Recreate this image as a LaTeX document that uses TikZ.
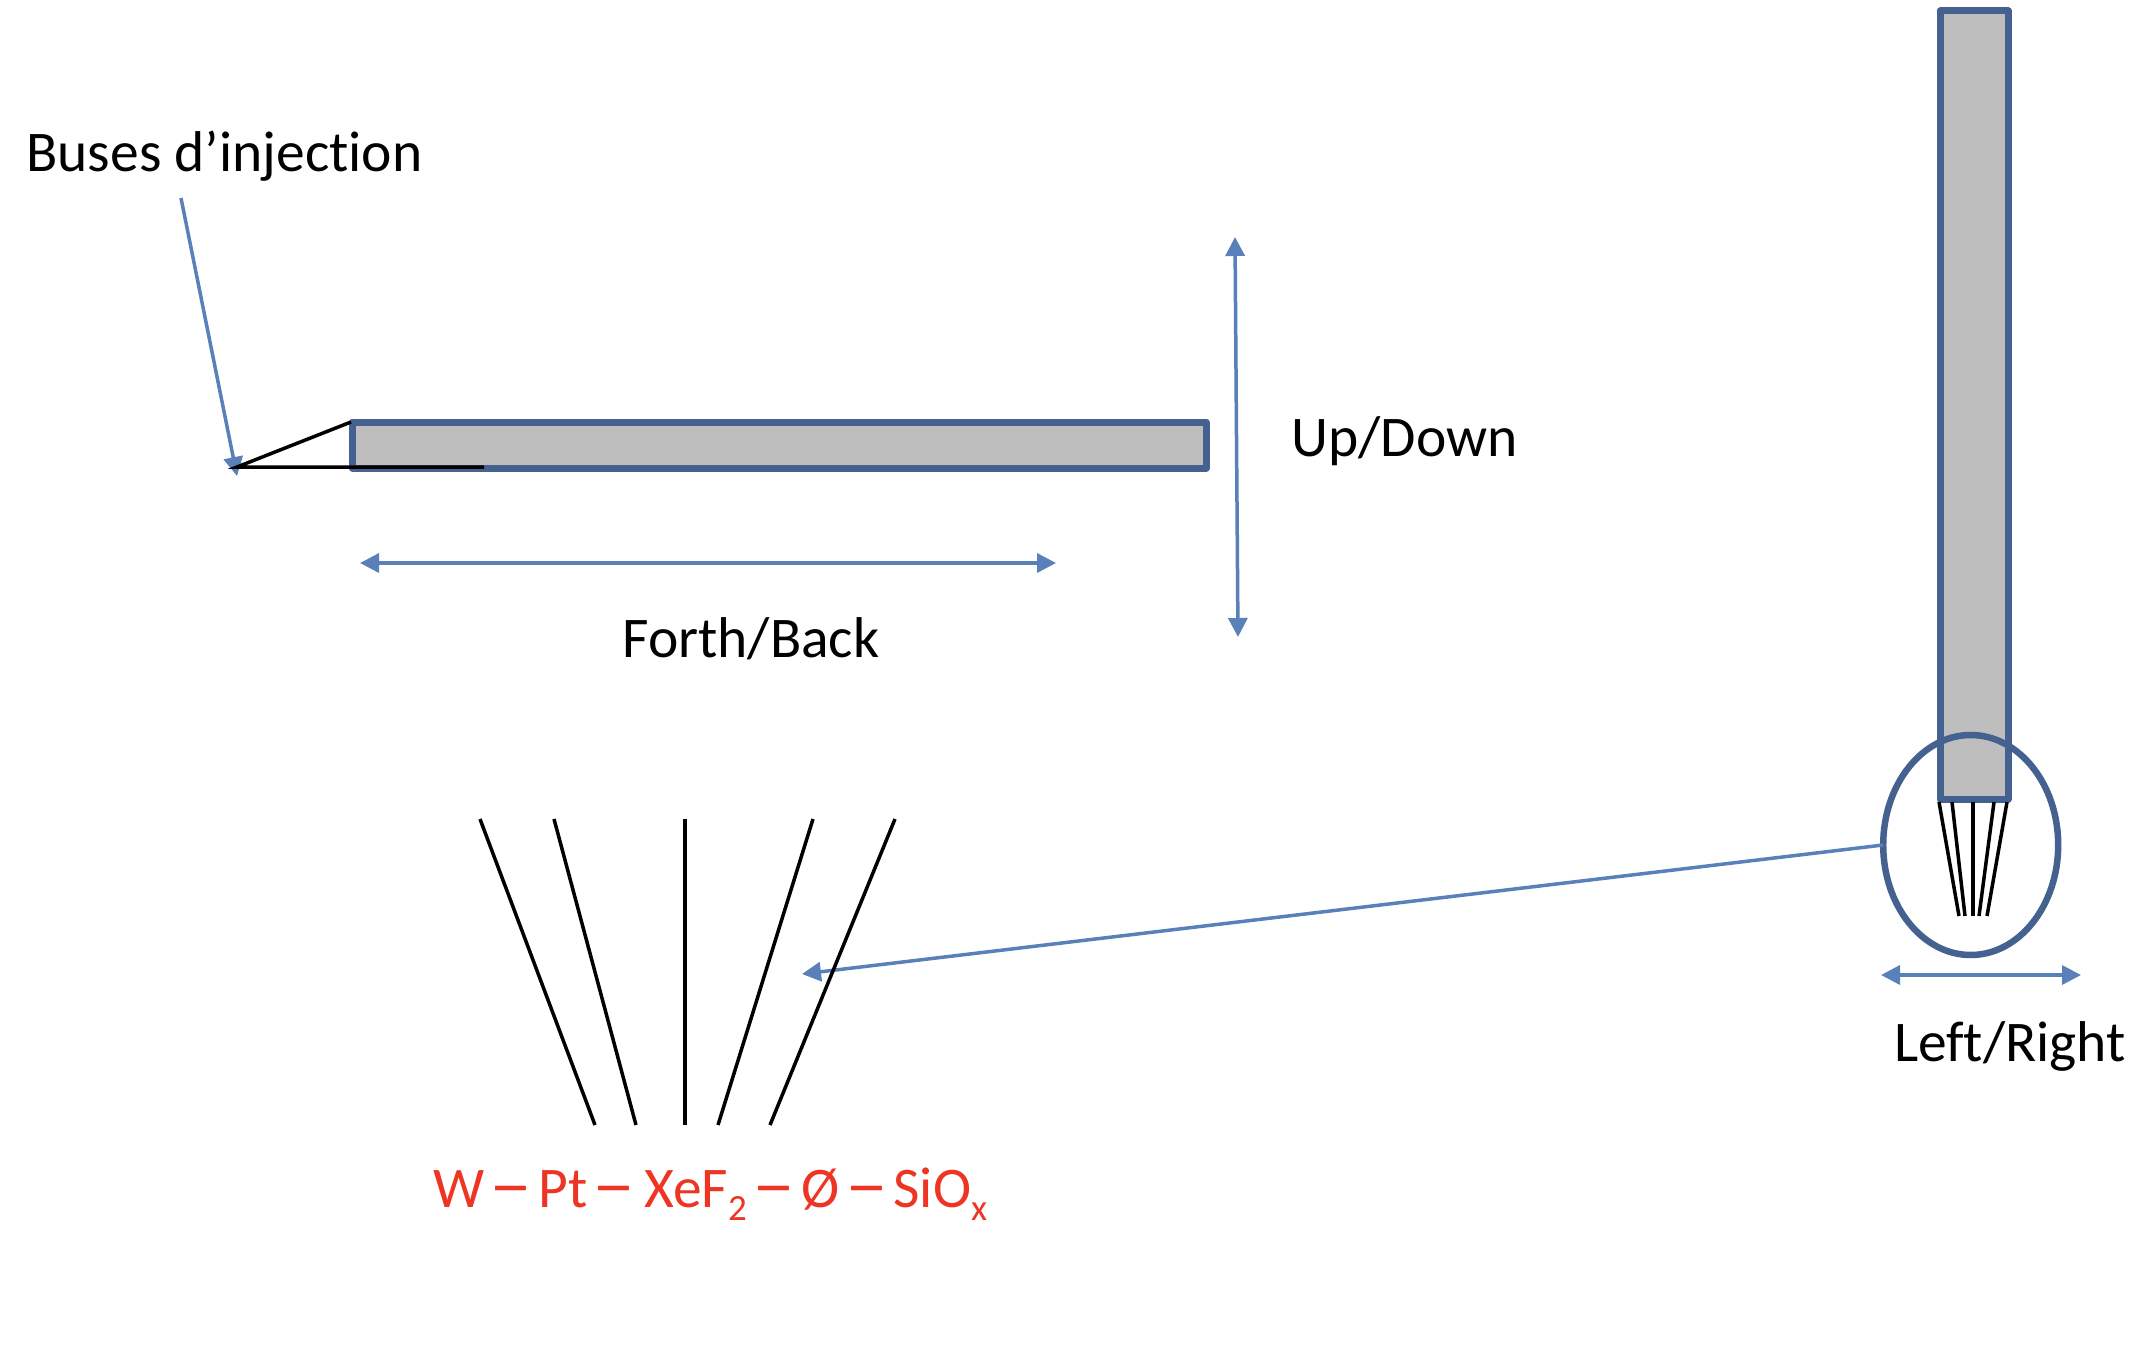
\documentclass[tikz,border=0pt]{standalone}
\usepackage{fontspec}
\setmainfont[RawFeature={-liga;-clig}]{Carlito}
\usetikzlibrary{arrows.meta,shapes.geometric}
\definecolor{probe}{HTML}{44618F}
\definecolor{bluearrow}{HTML}{5A80BA}
\definecolor{barfill}{HTML}{BEBEBE}
\definecolor{redtxt}{HTML}{EE3524}
\newcommand{\subtxt}[1]{\raisebox{-0.23em}{\fontsize{37}{37}\selectfont #1}}
\newcommand{\wdash}{\raisebox{-0.02em}{\scalebox{1.5}[1.25]{–}}}
\newcommand{\gapdash}{\hspace{-7.5pt}\wdash\hspace{-7.5pt}}
\tikzset{
  x=1pt,y=-1pt,
  bar/.style={draw=probe,line width=7pt,fill=barfill,line join=round},
  lens/.style={draw=probe,line width=6.5pt,shape=ellipse,inner sep=0pt,outer sep=0pt,minimum width=175pt,minimum height=220pt},
  bluearr/.style={draw=bluearrow,line width=3.5pt,-{Triangle[length=19pt,width=19pt,fill=bluearrow]}},
  bluearrr/.style={draw=bluearrow,line width=3.5pt,{Triangle[length=19pt,width=19pt,fill=bluearrow]}-{Triangle[length=19pt,width=19pt,fill=bluearrow]}},
  jet/.style={draw=black,line width=3.5pt},
  lab/.style={anchor=base west,inner sep=0pt,outer sep=0pt,font=\fontsize{57.5}{68}\selectfont},
  redlab/.style={lab,text=redtxt},
}
\begin{document}
\begin{tikzpicture}
\useasboundingbox (0,0) rectangle (2156,1346);
% horizontal bar
\draw[bar] (352,422) rectangle (1206,468);
% vertical bar
\draw[bar] (1940,11) rectangle (2008,799);
% labels
\node[lab] (buses) at (26.5,171) {Buses d’injection};
\node[lab] (updown) at (1291.5,456) {Up/Down};
\node[lab] (forth) at (622.5,657) {Forth/Back};
\node[lab] (leftright) at (1894,1061) {Left/Right};
\node[redlab] (elements) at (433,1207) {W \gapdash{} Pt \gapdash\hspace{3pt}{} XeF\subtxt{2}\hspace{6pt}\wdash\hspace{-7.5pt} Ø \gapdash{} SiO\subtxt{x}};
% lens
\node[lens] (lens) at (1970.7,845) {};
% coordinates
\coordinate (nozzle) at (237,467);
\coordinate (busesA) at (181,198);
\coordinate (busesB) at (237,476);
\coordinate (nozzT) at (351,422);
\coordinate (nozzB) at (484,467);
\coordinate (fbL) at (360,563);
\coordinate (fbR) at (1056,563);
\coordinate (udT) at (1235,237);
\coordinate (udB) at (1238,637);
\coordinate (lrL) at (1881,975);
\coordinate (lrR) at (2081,975);
\coordinate (target) at (802,974);
% blue arrows
\draw[bluearr] (busesA) -- (busesB);
\draw[bluearrr] (fbL) -- (fbR);
\draw[bluearrr] (udT) -- (udB);
\draw[bluearrr] (lrL) -- (lrR);
\draw[bluearr] (lens.west) -- (target);
% nozzle sketch
\draw[jet] (nozzT) -- (nozzle) -- (nozzB);
% small fan
\foreach \i/\a/\b in {1/1939/1959,2/1952/1965,3/1973/1973,4/1994/1979,5/2007/1987}{
  \coordinate (st\i) at (\a,802);
  \coordinate (se\i) at (\b,916);
  \draw[jet] (st\i) -- (se\i);
}
% large fan
\foreach \i/\a/\b in {1/480/595,2/554/636,3/685/685,4/813/718,5/895/770}{
  \coordinate (lt\i) at (\a,819);
  \coordinate (le\i) at (\b,1125);
  \draw[jet] (lt\i) -- (le\i);
}
\end{tikzpicture}
\end{document}
